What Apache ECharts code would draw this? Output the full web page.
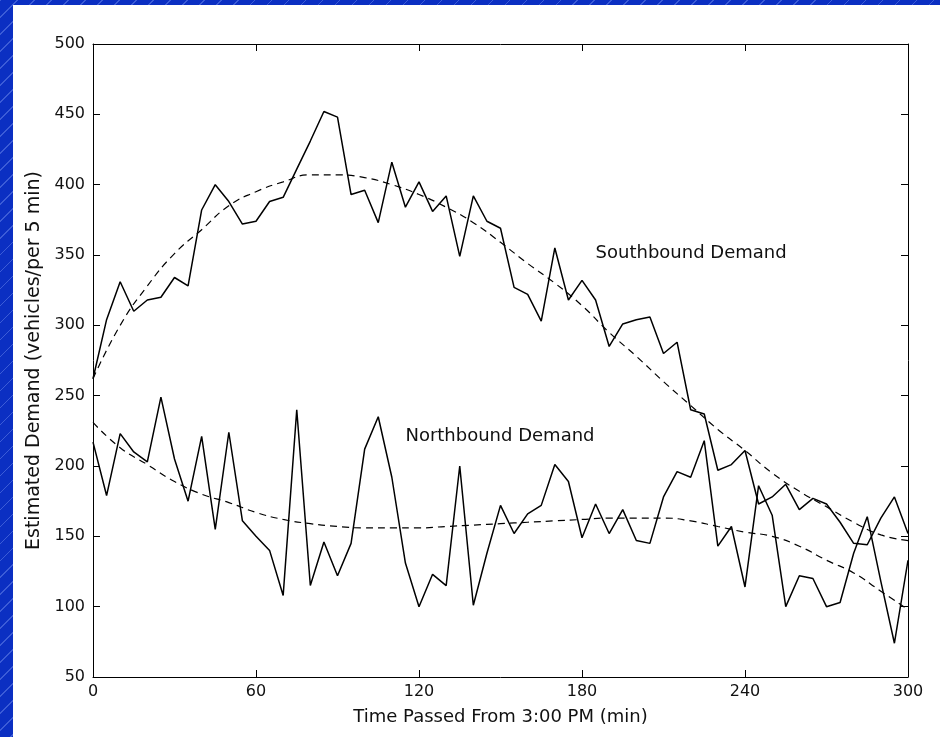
<!DOCTYPE html>
<html>
<head>
<meta charset="utf-8">
<title>Estimated Demand</title>
<script src="https://cdn.jsdelivr.net/npm/echarts@6/dist/echarts.min.js"></script>
<style>
  html, body { margin: 0; padding: 0; width: 940px; height: 737px; overflow: hidden; }
  body {
    background-color: #0b2fc2;
    background-image: repeating-linear-gradient(135deg, rgba(150,175,255,0.35) 0px, rgba(150,175,255,0.35) 1px, transparent 1px, transparent 12px);
  }
  #paper { position: absolute; left: 13px; top: 5px; right: 0; bottom: 0; background: #fff; }
  #chart { position: absolute; left: 0; top: 0; width: 940px; height: 737px; }
</style>
</head>
<body>
<div id="paper"></div>
<div id="chart"></div>
<script>
// minutes after 3:00 PM, one sample every 5 min
var minutes = [0, 5, 10, 15, 20, 25, 30, 35, 40, 45, 50, 55, 60, 65, 70, 75, 80, 85, 90, 95,
  100, 105, 110, 115, 120, 125, 130, 135, 140, 145, 150, 155, 160, 165, 170, 175, 180, 185, 190, 195,
  200, 205, 210, 215, 220, 225, 230, 235, 240, 245, 250, 255, 260, 265, 270, 275, 280, 285, 290, 295, 300];

var southbound = [262, 304, 331, 310, 318, 320, 334, 328, 382, 400, 388, 372, 374, 388, 391, 411, 431, 452, 448, 393,
  396, 373, 416, 384, 402, 381, 392, 349, 392, 374, 369, 327, 322, 303, 355, 318, 332, 318, 285, 301,
  304, 306, 280, 288, 240, 237, 197, 201, 211, 173, 178, 187, 169, 177, 173, 160, 145, 144, 163, 178, 152];

var northbound = [217, 179, 223, 210, 203, 249, 205, 175, 221, 155, 224, 161, 150, 140, 108, 240, 115, 146, 122, 145,
  212, 235, 192, 131, 100, 123, 115, 200, 101, 138, 172, 152, 166, 172, 201, 189, 149, 173, 152, 169,
  147, 145, 178, 196, 192, 218, 143, 157, 114, 186, 165, 100, 122, 120, 100, 103, 138, 164, 118, 74, 133];

// fitted trend curves, read every 10 min
var fitMinutes = [0, 10, 20, 30, 40, 50, 60, 70, 80, 90, 100, 110, 120, 130, 140, 150,
  160, 170, 180, 190, 200, 210, 220, 230, 240, 250, 260, 270, 280, 290, 300];
var southFit = [262, 300, 328, 351, 368, 385, 395, 402, 407, 407, 405, 400, 393, 384, 373, 359,
  344, 330, 314, 295, 278, 260, 243, 226, 211, 195, 182, 171, 160, 151, 147];
var northFit = [231, 213, 201, 189, 180, 174, 167, 162, 159, 157, 156, 156, 156, 157, 158, 159,
  160, 161, 162, 163, 163, 163, 161, 157, 153, 150, 143, 133, 124, 111, 98];

var xTicks = [0, 60, 120, 180, 240, 300];
var yTicks = [50, 100, 150, 200, 250, 300, 350, 400, 450, 500];

function pairs(xs, ys) {
  return xs.map(function (x, i) { return [x, ys[i]]; });
}

var chart = echarts.init(document.getElementById('chart'));

var fontName = '"DejaVu Sans", Verdana, sans-serif';
var tickFont = { fontFamily: fontName, fontSize: 16, color: '#111' };
var textFont = { fontFamily: fontName, fontSize: 18, color: '#111' };

// plain frame axis: line + inward ticks, no labels
function frameAxis(extra) {
  return Object.assign({
    type: 'value',
    axisLine: { show: true, onZero: false, lineStyle: { color: '#000', width: 1 } },
    axisTick: { show: true, inside: true, length: 7, lineStyle: { color: '#000' } },
    axisLabel: { show: false },
    splitLine: { show: false }
  }, extra);
}

chart.setOption({
  animation: false,
  backgroundColor: 'transparent',
  grid: {
    left: 93,
    right: 32,
    top: 44,
    bottom: 60
  },
  xAxis: [
    frameAxis({
      min: xTicks[0],
      max: xTicks[xTicks.length - 1],
      interval: 60,
      name: 'Time Passed From 3:00 PM (min)',
      nameLocation: 'middle',
      nameGap: 31,
      nameTextStyle: textFont,
      axisLabel: Object.assign({ show: true, margin: 7 }, tickFont)
    }),
    frameAxis({
      position: 'top',
      min: xTicks[0],
      max: xTicks[xTicks.length - 1],
      interval: 60
    })
  ],
  yAxis: [
    frameAxis({
      min: yTicks[0],
      max: yTicks[yTicks.length - 1],
      interval: 50,
      name: 'Estimated Demand (vehicles/per 5 min)',
      nameLocation: 'middle',
      nameGap: 47,
      nameTextStyle: Object.assign({}, textFont, { fontSize: 19 }),
      axisLabel: Object.assign({ show: true, margin: 8 }, tickFont)
    }),
    frameAxis({
      position: 'right',
      min: yTicks[0],
      max: yTicks[yTicks.length - 1],
      interval: 50
    })
  ],
  series: [{
    name: 'Southbound Demand',
    type: 'line',
    data: pairs(minutes, southbound),
    showSymbol: false,
    lineStyle: { color: '#000', width: 1.5 },
    markPoint: {
      symbol: 'circle',
      symbolSize: 0,
      data: [{ coord: [185, 351] }],
      label: Object.assign({ show: true, position: 'right', distance: 0, formatter: 'Southbound Demand' }, textFont)
    }
  }, {
    name: 'Northbound Demand',
    type: 'line',
    data: pairs(minutes, northbound),
    showSymbol: false,
    lineStyle: { color: '#000', width: 1.5 },
    markPoint: {
      symbol: 'circle',
      symbolSize: 0,
      data: [{ coord: [115, 221] }],
      label: Object.assign({ show: true, position: 'right', distance: 0, formatter: 'Northbound Demand' }, textFont)
    }
  }, {
    name: 'Southbound fit',
    type: 'line',
    data: pairs(fitMinutes, southFit),
    smooth: true,
    showSymbol: false,
    lineStyle: { color: '#000', width: 1.2, type: [7, 5] }
  }, {
    name: 'Northbound fit',
    type: 'line',
    data: pairs(fitMinutes, northFit),
    smooth: true,
    showSymbol: false,
    lineStyle: { color: '#000', width: 1.2, type: [7, 5] }
  }]
});
</script>
</body>
</html>
